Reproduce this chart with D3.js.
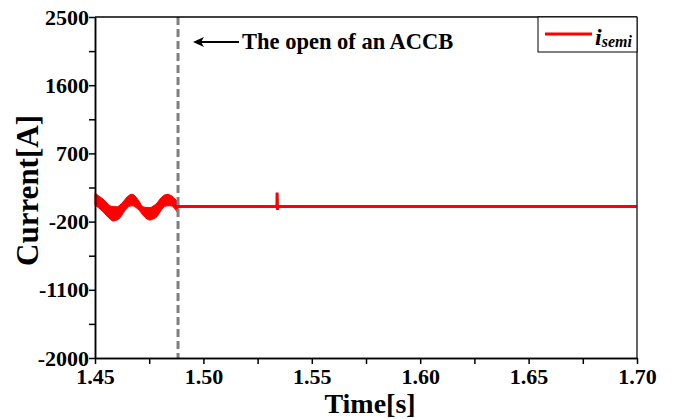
<!DOCTYPE html>
<html><head><meta charset="utf-8">
<script src="https://cdn.jsdelivr.net/npm/d3@7"></script>
<style>
body{margin:0;background:#fff;}
</style></head>
<body><svg id="c" width="681" height="419"></svg>
<script>
// ---- data ----
const xMajorTicks = [1.45, 1.50, 1.55, 1.60, 1.65, 1.70];
const xMinorTicks = [1.475, 1.525, 1.575, 1.625, 1.675];
const yMajorTicks = [-2000, -1100, -200, 700, 1600, 2500];
const yMinorTicks = [-1550, -650, 250, 1150, 2050];
// oscillating band before the breaker opens (time, upper, lower) in A
const bandTime  = [1.4500,1.4518,1.4537,1.4555,1.4569,1.4583,1.4601,1.4615,1.4629,1.4648,1.4661,1.4671,1.4680,1.4689,1.4703,1.4721,1.4740,1.4754,1.4772,1.4786,1.4800,1.4814,1.4827,1.4837,1.4846,1.4855,1.4869,1.4883];
const bandUpper = [177,137,98,45,9,-1,-4,18,58,124,153,160,150,124,71,-4,-15,-15,12,45,98,137,157,160,150,137,98,62];
const bandLower = [18,-21,-70,-127,-166,-193,-180,-153,-94,-21,5,9,5,-15,-48,-114,-166,-180,-160,-136,-74,-17,5,9,9,5,-34,-91];
// after the opening
const lineTime  = [1.4883, 1.5339, 1.5340, 1.5342, 1.5343, 1.70];
const lineValue = [0, 0, 185, -45, 0, 0];
const openTime = 1.4883;
const annotation = "The open of an ACCB";
const seriesName = "i";
const seriesSub = "semi";

// ---- layout ----
const FONT = "'Liberation Serif','Times New Roman',serif";
const svg = d3.select("#c");
const L = 95, R = 637, T = 17, B = 358;
const x = d3.scaleLinear().domain([1.45, 1.70]).range([L, R]);
const y = d3.scaleLinear().domain([-2000, 2500]).range([B, T]);
const red = "#ff0000";

function txt(sel, size) {
  return sel.style("font-family", FONT).style("font-weight", "bold").style("font-size", size + "px").style("fill", "#000");
}

// band
const band = bandTime.map((t, i) => ({t, u: bandUpper[i], l: bandLower[i]}));
svg.append("path").datum(band)
  .attr("d", d3.area().x(d => x(d.t)).y0(d => y(d.l)).y1(d => y(d.u)).curve(d3.curveMonotoneX))
  .attr("fill", red).attr("stroke", red).attr("stroke-width", 1);
const line = lineTime.map((t, i) => ({t, v: lineValue[i]}));
svg.append("path").datum(line)
  .attr("d", d3.line().x(d => x(d.t)).y(d => y(d.v)))
  .attr("fill", "none").attr("stroke", red).attr("stroke-width", 3);

// dashed line
svg.append("line").attr("x1", x(openTime)).attr("x2", x(openTime)).attr("y1", T).attr("y2", B)
  .attr("stroke", "#808080").attr("stroke-width", 3).attr("stroke-dasharray", "8,4");

// frame
svg.append("line").attr("x1", L).attr("x2", R).attr("y1", T).attr("y2", T).attr("stroke", "#000").attr("stroke-width", 1.5);
svg.append("line").attr("x1", R).attr("x2", R).attr("y1", T).attr("y2", B).attr("stroke", "#333").attr("stroke-width", 1.5);

// axes
const fmtX = d => d.toFixed(2);
const fmtY = d => String(d);
const xAx = svg.append("g").attr("transform", `translate(0,${B})`)
  .call(d3.axisBottom(x).tickValues(xMajorTicks).tickFormat(fmtX).tickSize(6).tickSizeOuter(0).tickPadding(4));
const xMin = svg.append("g").attr("transform", `translate(0,${B})`)
  .call(d3.axisBottom(x).tickValues(xMinorTicks).tickFormat("").tickSize(6).tickSizeOuter(0));
const yAx = svg.append("g").attr("transform", `translate(${L},0)`)
  .call(d3.axisLeft(y).tickValues(yMajorTicks).tickFormat(fmtY).tickSize(6).tickSizeOuter(0).tickPadding(0));
const yMin = svg.append("g").attr("transform", `translate(${L},0)`)
  .call(d3.axisLeft(y).tickValues(yMinorTicks).tickFormat("").tickSize(6).tickSizeOuter(0));
[xAx, xMin, yAx, yMin].forEach(g => {
  g.selectAll("path").attr("stroke", "#000").attr("stroke-width", 1.5);
  g.selectAll("line").attr("stroke", "#000").attr("stroke-width", 1.5);
  txt(g.selectAll("text"), 22);
});

// axis titles
txt(svg.append("text").attr("x", (L + R) / 2 + 4).attr("y", 413).attr("text-anchor", "middle"), 28).text("Time[s]");
txt(svg.append("text").attr("transform", `translate(38,${(T + B) / 2 + 3}) rotate(-90)`).attr("text-anchor", "middle"), 31).text("Current[A]");

// annotation arrow
svg.append("line").attr("x1", 200).attr("x2", 239).attr("y1", 42).attr("y2", 42)
  .attr("stroke", "#000").attr("stroke-width", 2);
svg.append("path").attr("d", "M193,42 L204,37 L201,42 L204,47 Z").attr("fill", "#000");
txt(svg.append("text").attr("x", 242).attr("y", 49), 22.5).text(annotation);

// legend
svg.append("rect").attr("x", 538).attr("y", T).attr("width", R - 538).attr("height", 35)
  .attr("fill", "#fff").attr("stroke", "#000").attr("stroke-width", 1);
svg.append("line").attr("x1", 545).attr("x2", 592).attr("y1", 34).attr("y2", 34)
  .attr("stroke", red).attr("stroke-width", 3);
const lt = txt(svg.append("text").attr("x", 595).attr("y", 45), 24).style("font-style", "italic");
lt.append("tspan").text(seriesName);
lt.append("tspan").style("font-size", "16px").attr("dy", 2).text(seriesSub);
</script></body></html>
